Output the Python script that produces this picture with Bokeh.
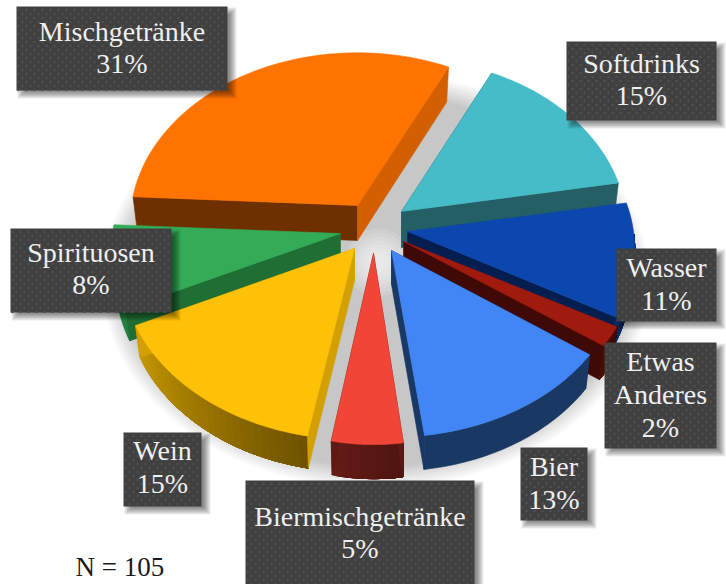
import numpy as np
from bokeh.plotting import figure
from bokeh.models import Range1d
from bokeh.embed import file_html
from bokeh.resources import INLINE
from bokeh.core.properties import value

# ---- data ----
categories = ["Mischgetränke", "Softdrinks", "Wasser", "Etwas Anderes", "Bier", "Biermischgetränke", "Wein", "Spirituosen"]
shares = [31.4, 15, 10.8, 1.9, 13, 5, 15, 7.9]
n_text = "N = 105"

# ---- layout / style, all in page pixels ----
start_deg = 177.0
apex_x = [357, 401, 407, 403, 391, 373, 354, 340]
apex_y = [205, 211, 231, 241, 250, 253, 248, 233]
radius_x = [226, 224, 226, 232, 230, 208, 232, 228]
radius_y = [168, 168, 168, 168, 168, 172, 172, 168]
persp = 0.10
lean = 0.98
depth = [35, 36, 34, 34, 34, 34, 32, 32]
top_col = ["#FF7300", "#45BCC7", "#0B47AE", "#A01A0E", "#4285F4", "#F14637", "#FFC107", "#34AB57"]
edge_start_col = ["#6E3000", "#245F66", "#0B47AE", "#A01A0E", "#1A3864", "#5C1A14", "#D4A000", "#1F6E34"]
edge_end_col = ["#D45F00", "#245F66", "#041E50", "#3F0A05", "#1A3864", "#5C1A14", "#D4A000", "#34AB57"]
wall_a = ["#6E3000", "#245F66", "#0A2A66", "#4F0D07", "#1A3864", "#661C16", "#C89A00", "#1F8240"]
wall_b = ["#6E3000", "#245F66", "#041E50", "#3F0A05", "#1A3864", "#4E1511", "#6E5200", "#1F8240"]
draw_order = [1, 0, 2, 7, 3, 4, 5, 6]

box_left = [16, 566, 616, 604, 520, 245, 123, 10]
box_right = [227, 716, 716, 716, 587, 474, 201, 171]
box_top = [6, 41, 248, 342, 447, 480, 432, 228]
box_bottom = [90, 120, 321, 448, 520, 590, 506, 312]
label_lines = [["Mischgetränke", "31%"], ["Softdrinks", "15%"], ["Wasser", "11%"], ["Etwas", "Anderes", "2%"],
               ["Bier", "13%"], ["Biermischgetränke", "5%"], ["Wein", "15%"], ["Spirituosen", "8%"]]
label_y = [[31, 63], [63, 95], [267, 300], [361, 394, 427], [466, 499], [516, 548], [450, 483], [252, 284]]
font = value("Liberation Serif")

p = figure(width=726, height=584, x_range=Range1d(0, 726), y_range=Range1d(584, 0),
           toolbar_location=None, output_backend="svg", min_border=0, outline_line_color=None,
           background_fill_color="white", border_fill_color="white")
p.axis.visible = False
p.grid.visible = False


def hex2rgb(h):
    return np.array([int(h[i:i + 2], 16) for i in (1, 3, 5)], float)


def mix(a, b, t):
    c = hex2rgb(a) * (1 - t) + hex2rgb(b) * t
    return "#%02x%02x%02x" % tuple(int(round(v)) for v in c)


def project(i, deg):
    th = np.radians(deg)
    den = 1 + persp * np.sin(th)
    return apex_x[i] + radius_x[i] * np.cos(th) / den, apex_y[i] - radius_y[i] * np.sin(th) / den


def lower(i, x, y):
    """The point under a top-face point, on the bottom of the slice."""
    return apex_x[i] + (np.asarray(x) - apex_x[i]) * lean, np.asarray(y) + depth[i]


def poly(xs, ys, col):
    p.patch(list(xs), list(ys), fill_color=col, line_color=col, line_width=0.6)


# soft ground shadow
levels = 14
for k in range(levels):
    t = 1 - k / (levels - 1)
    p.ellipse(x=[375], y=[280], width=[2 * (252 + 22 * t)], height=[2 * (186 + 22 * t)],
              fill_color="black", fill_alpha=0.0165, line_color=None)
for r in range(34, 6, -4):
    p.ellipse(x=[378], y=[262], width=[2 * r], height=[2 * r], fill_color="white", fill_alpha=0.13, line_color=None)

# slices, back to front
for i in draw_order:
    a0 = start_deg - sum(shares[:i]) * 3.6      # higher angle
    a1 = a0 - shares[i] * 3.6                   # lower angle
    ax, ay = apex_x[i], apex_y[i]
    # outer wall: each strip runs on to the far end, the next one paints over it
    vis_hi = a0 if np.sin(np.radians(a0)) < 0.03 else min(a0, -1.0)
    vis_lo = a1 if np.sin(np.radians(a1)) < 0.03 else max(a1, -181.5)
    if vis_lo < vis_hi and np.sin(np.radians((vis_lo + vis_hi) / 2)) < 0:
        uniform = wall_a[i] == wall_b[i]
        steps = 1 if uniform else 30
        for s in np.linspace(vis_lo, vis_hi, steps, endpoint=False):
            arc = np.linspace(s, vis_hi, 40)
            x, y = project(i, arc)
            xb, yb = lower(i, x, y)
            mid = s + (vis_hi - vis_lo) / steps / 2
            col = mix(wall_b[i], wall_a[i], (a0 - mid) / (a0 - a1))
            poly(np.r_[x, xb[::-1]], np.r_[y, yb[::-1]], col)
    # cut faces; a face in the top's colour lies hidden behind the top
    if edge_start_col[i] != top_col[i]:
        xs, ys = project(i, a0)
        xsb, ysb = lower(i, xs, ys)
        poly([ax, xs, xsb, ax], [ay, ys, ysb, ay + depth[i]], edge_start_col[i])
    if edge_end_col[i] != top_col[i]:
        xe, ye = project(i, a1)
        xeb, yeb = lower(i, xe, ye)
        poly([ax, xe, xeb, ax], [ay, ye, yeb, ay + depth[i]], edge_end_col[i])
    # top face
    px, py = project(i, np.linspace(a0, a1, 60))
    poly(np.r_[ax, px], np.r_[ay, py], top_col[i])

# label boxes
for i in range(len(categories)):
    l, r, t, b = box_left[i], box_right[i], box_top[i], box_bottom[i]
    for e in range(4, -4, -1):
        p.quad(left=[l + 5 - e], right=[r + 5 + e], top=[t + 5 - e], bottom=[b + 4 + e],
               fill_color="black", fill_alpha=0.07, line_color=None)
    p.quad(left=[l], right=[r], top=[t], bottom=[b], fill_color="#404040", line_color=None)
    dx, dy = [], []
    row = 0
    for yy in np.arange(t + 3.5, b, 4.0):
        off = 2.0 if row % 2 == 0 else 6.0
        for xx in np.arange(l + off, r - 1, 8.0):
            dx.append(xx)
            dy.append(yy)
        row += 1
    p.scatter(x=dx, y=dy, marker="circle", size=2.6, fill_color="#4E4E4E", line_color=None)
    for line, yy in zip(label_lines[i], label_y[i]):
        p.text(x=[(l + r) / 2], y=[yy], text=[line], text_font=font, text_font_size="28px",
               text_color="#EFEFEF", text_align="center", text_baseline="middle")

p.text(x=[75], y=[566], text=[n_text], text_font=font, text_font_size="27px", text_color="#1a1a1a",
       text_align="left", text_baseline="middle")

open("out.html", "w").write(file_html(p, INLINE))
